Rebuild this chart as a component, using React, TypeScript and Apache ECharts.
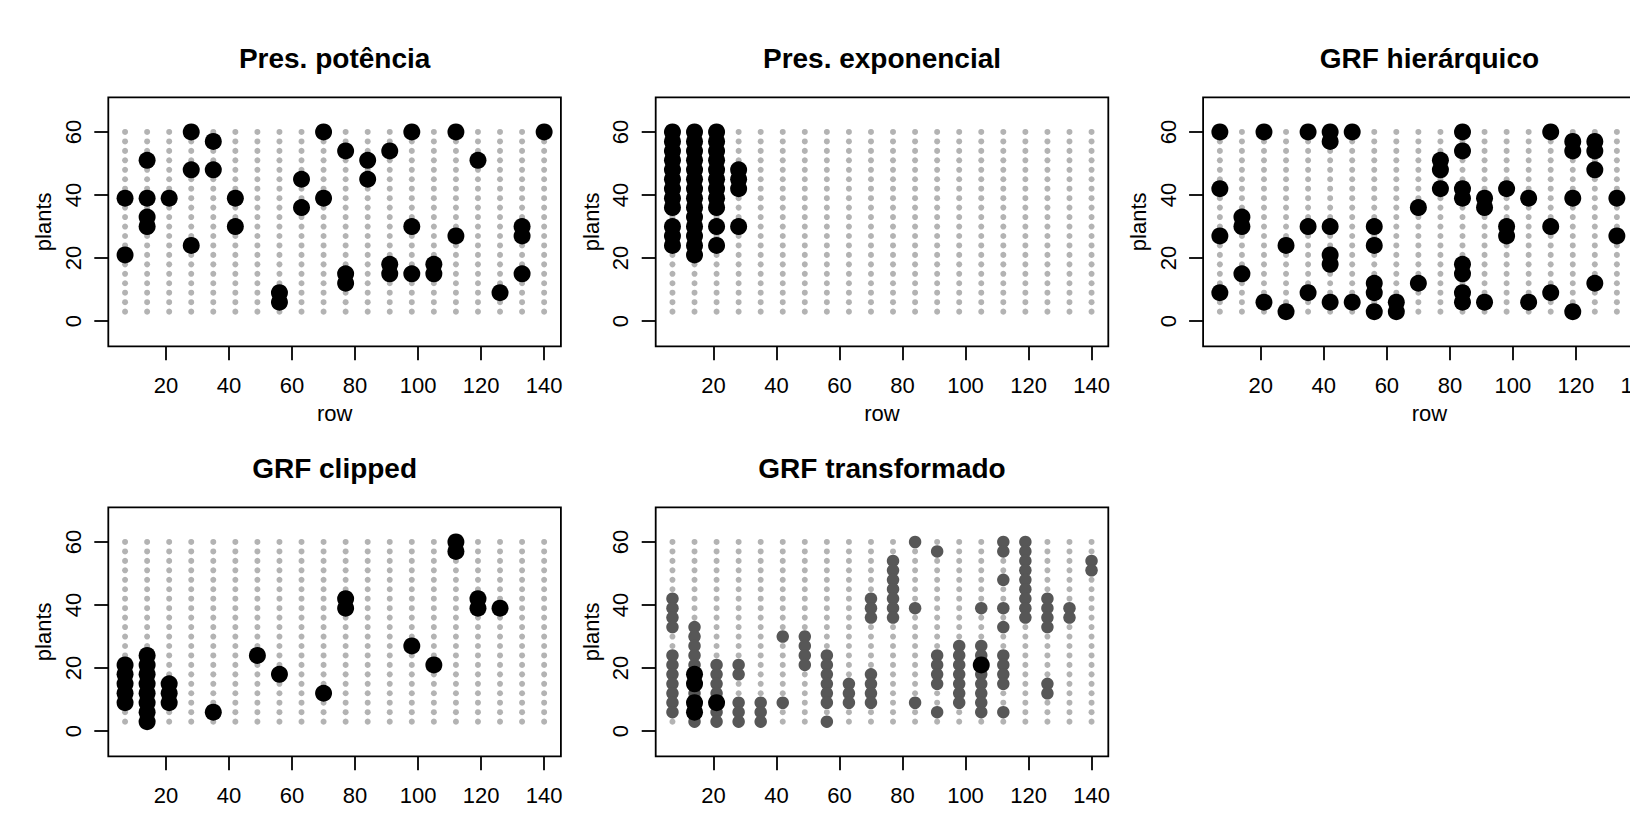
import React, { useEffect, useRef } from "react";
import * as echarts from "echarts";

// Lattice of positions (gray background points)
const ROWS = [7, 14, 21, 28, 35, 42, 49, 56, 63, 70, 77, 84, 91, 98, 105, 112, 119, 126, 133, 140];
const PLANTS = [3, 6, 9, 12, 15, 18, 21, 24, 27, 30, 33, 36, 39, 42, 45, 48, 51, 54, 57, 60];

const X_TICKS = [20, 40, 60, 80, 100, 120, 140];
const Y_TICKS = [0, 20, 40, 60];

const TITLES = ["Pres. potência", "Pres. exponencial", "GRF hierárquico", "GRF clipped", "GRF transformado"];

// Selected plants per row: [row, plants[]]
const PRES_POTENCIA: [number, number[]][] = [
  [7, [39, 21]], [14, [51, 39, 33, 30]], [21, [39]], [28, [60, 48, 24]], [35, [57, 48]],
  [42, [39, 30]], [56, [9, 6]], [63, [45, 36]], [70, [60, 39]], [77, [54, 15, 12]],
  [84, [51, 45]], [91, [54, 18, 15]], [98, [60, 30, 15]], [105, [18, 15]], [112, [60, 27]],
  [119, [51]], [126, [9]], [133, [30, 27, 15]], [140, [60]],
];

const PRES_EXPONENCIAL: [number, number[]][] = [
  [7, [60, 57, 54, 51, 48, 45, 42, 39, 36, 30, 27, 24]],
  [14, [60, 57, 54, 51, 48, 45, 42, 39, 36, 33, 30, 27, 24, 21]],
  [21, [60, 57, 54, 51, 48, 45, 42, 39, 36, 30, 24]],
  [28, [48, 45, 42, 30]],
];

const GRF_HIERARQUICO: [number, number[]][] = [
  [7, [60, 42, 27, 9]], [14, [33, 30, 15]], [21, [60, 6]], [28, [24, 3]], [35, [60, 30, 9]],
  [42, [60, 57, 30, 21, 18, 6]], [49, [60, 6]], [56, [30, 24, 12, 9, 3]], [63, [6, 3]],
  [70, [36, 12]], [77, [51, 48, 42]], [84, [60, 54, 42, 39, 18, 15, 9, 6]], [91, [39, 36, 6]],
  [98, [42, 30, 27]], [105, [39, 6]], [112, [60, 30, 9]], [119, [57, 54, 39, 3]],
  [126, [57, 54, 48, 12]], [133, [39, 27]], [140, [48, 33]],
];

const GRF_CLIPPED: [number, number[]][] = [
  [7, [21, 18, 15, 12, 9]], [14, [24, 21, 18, 15, 12, 9, 6, 3]], [21, [15, 12, 9]], [35, [6]],
  [49, [24]], [56, [18]], [70, [12]], [77, [42, 39]], [98, [27]], [105, [21]],
  [112, [60, 57]], [119, [42, 39]], [126, [39]],
];

const GRF_TRANSF_DARK: [number, number[]][] = [
  [7, [42, 39, 36, 33, 24, 21, 18, 15, 12, 9, 6]], [14, [33, 30, 27, 24, 21, 18, 15, 12, 9, 6, 3]],
  [21, [21, 18, 15, 12, 9, 6, 3]], [28, [21, 18, 9, 6, 3]], [35, [9, 6, 3]], [42, [30, 9]],
  [49, [30, 27, 24, 21]], [56, [24, 21, 18, 15, 12, 9, 3]], [63, [15, 12, 9]],
  [70, [42, 39, 36, 18, 15, 12, 9]], [77, [54, 51, 48, 45, 42, 39, 36]], [84, [60, 39, 9]],
  [91, [57, 24, 21, 18, 15, 6]], [98, [27, 24, 21, 18, 15, 12, 9]],
  [105, [39, 27, 24, 21, 18, 15, 12, 9, 6]], [112, [60, 57, 48, 39, 33, 24, 21, 18, 15, 6]],
  [119, [60, 57, 54, 51, 48, 45, 42, 39, 36]], [126, [42, 39, 36, 33, 15, 12]], [133, [39, 36]],
  [140, [54, 51]],
];

const GRF_TRANSF_BLACK: [number, number[]][] = [[14, [18, 15, 9, 6]], [21, [9]], [105, [21]]];

const FONT = "'Liberation Sans', Arial, Helvetica, sans-serif";

function expand(list: [number, number[]][]): number[][] {
  const out: number[][] = [];
  list.forEach(([r, ps]) => ps.forEach((p) => out.push([r, p])));
  return out;
}

export default function App() {
  const ref = useRef<HTMLDivElement>(null);
  useEffect(() => {
    if (!ref.current) return;
    const chart = echarts.init(ref.current, null, { renderer: "svg" });

    const lattice: number[][] = [];
    ROWS.forEach((r) => PLANTS.forEach((p) => lattice.push([r, p])));

    const W = 452.6;
    const H = 249;
    const lefts = [108.3, 655.7, 1203.1, 108.3, 655.7];
    const tops = [97.3, 97.3, 97.3, 507.3, 507.3];

    const grids = lefts.map((l, i) => ({
      left: l, top: tops[i], width: W, height: H, show: true,
      borderColor: "#000", borderWidth: 1.8, backgroundColor: "transparent",
      containLabel: false, outerBoundsMode: "none",
    }));

    const xAxes = lefts.map((_, i) => ({
      type: "value", gridIndex: i, min: 1.68, max: 145.32, position: "bottom",
      axisLine: { show: false, onZero: false }, splitLine: { show: false },
      axisTick: { show: true, inside: false, length: 14, customValues: X_TICKS, lineStyle: { color: "#000", width: 1.8 } },
      axisLabel: { customValues: X_TICKS, fontSize: 22, color: "#000", margin: 28, fontFamily: FONT },
    }));
    const yAxes = lefts.map((_, i) => ({
      type: "value", gridIndex: i, min: -8.0, max: 71.0, position: "left",
      axisLine: { show: false, onZero: false }, splitLine: { show: false },
      axisTick: { show: true, inside: false, length: 14, customValues: Y_TICKS, lineStyle: { color: "#000", width: 1.8 } },
      axisLabel: { customValues: Y_TICKS, fontSize: 22, color: "#000", margin: 24, rotate: 90, fontFamily: FONT },
    }));

    const gray = (i: number) => ({
      type: "scatter", xAxisIndex: i, yAxisIndex: i, data: lattice, symbol: "circle", symbolSize: 6,
      itemStyle: { color: "#B3B3B3", opacity: 1 }, silent: true, clip: false,
    });
    const sel = (i: number, list: [number, number[]][], color: string, size: number) => ({
      type: "scatter", xAxisIndex: i, yAxisIndex: i, data: expand(list), symbol: "circle", symbolSize: size,
      itemStyle: { color, opacity: 1 }, silent: true, clip: false,
    });

    const series: any[] = [
      gray(0), sel(0, PRES_POTENCIA, "#000", 17),
      gray(1), sel(1, PRES_EXPONENCIAL, "#000", 17),
      gray(2), sel(2, GRF_HIERARQUICO, "#000", 17),
      gray(3), sel(3, GRF_CLIPPED, "#000", 17),
      gray(4), sel(4, GRF_TRANSF_DARK, "#575757", 12.5), sel(4, GRF_TRANSF_BLACK, "#000", 17),
    ];

    const graphics: any[] = [];
    lefts.forEach((l, i) => {
      const cx = l + W / 2;
      const cy = tops[i] + H / 2;
      graphics.push({
        type: "text", x: cx, y: tops[i] - 39,
        style: { text: TITLES[i], fill: "#000", font: `bold 28px ${FONT}`, textAlign: "center", textVerticalAlign: "middle" },
      });
      graphics.push({
        type: "text", x: l - 64.6, y: cy, rotation: Math.PI / 2,
        style: { text: "plants", fill: "#000", font: `22px ${FONT}`, textAlign: "center", textVerticalAlign: "middle" },
      });
      if (i < 3) {
        graphics.push({
          type: "text", x: cx, y: tops[i] + H + 67.4,
          style: { text: "row", fill: "#000", font: `22px ${FONT}`, textAlign: "center", textVerticalAlign: "middle" },
        });
      }
    });

    chart.setOption({
      animation: false,
      backgroundColor: "#fff",
      grid: grids,
      xAxis: xAxes,
      yAxis: yAxes,
      series,
      graphic: graphics,
    });
    return () => chart.dispose();
  }, []);

  return (
    <div
      ref={ref}
      style={{ position: "absolute", left: 0, top: 0, width: 1630, height: 813, background: "#fff" }}
    />
  );
}
